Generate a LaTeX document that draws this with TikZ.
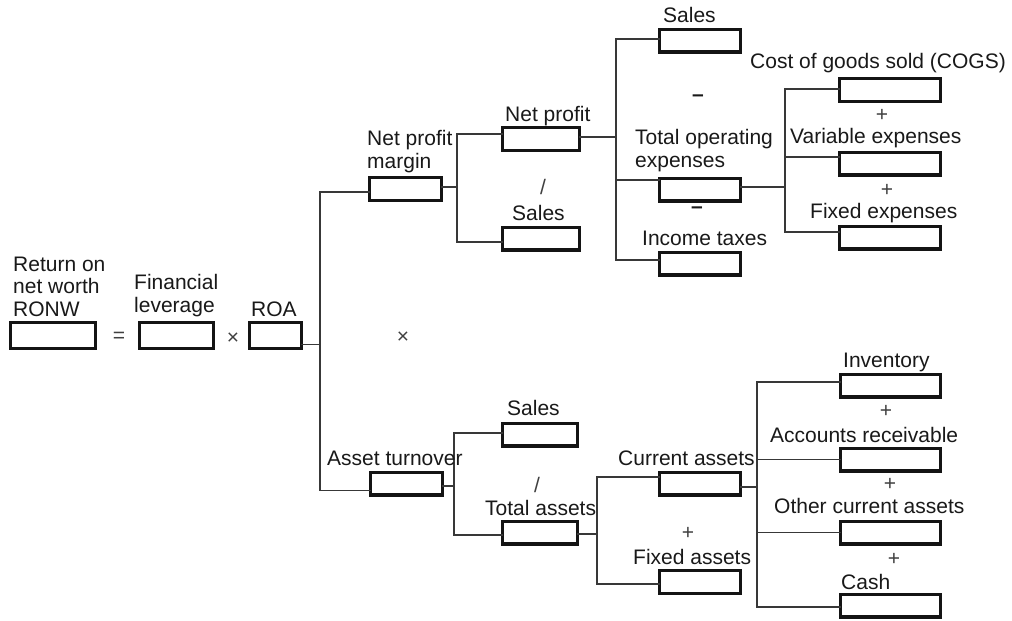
\documentclass[tikz,border=0pt]{standalone}
\usepackage{fontspec}
\setmainfont{Liberation Sans}
\usetikzlibrary{calc}
\newcommand{\lbfont}{\fontsize{21}{22.5}\selectfont}
\newcommand{\ml}[1]{\begin{tabular}[b]{@{}l@{}}#1\end{tabular}}
\begin{document}
\begin{tikzpicture}[x=1pt,y=-1pt,
  bx/.style={draw=black!92, line width=3.4pt, fill=white, minimum width=#1, minimum height=22.6pt, inner sep=0pt, outer sep=0pt},
  lbl/.style={anchor=base west, inner sep=0pt, font=\lbfont, text=black!90},
  op/.style={inner sep=0pt, font=\lbfont, text=black!75},
  conn/.style={draw=black!78, line width=1.2pt}]
\useasboundingbox[fill=white] (0,0) rectangle (1012,621);

% ---------- boxes ----------
\node[bx=84.6pt, minimum height=25.6pt] (ronw) at (53,335.5) {};
\node[bx=73.6pt, minimum height=25.6pt] (fl) at (176.5,335.5) {};
\node[bx=51.6pt, minimum height=25.6pt] (roa) at (275.5,335.5) {};
\node[bx=71.6pt] (npm) at (405.5,189) {};
\node[bx=76.6pt] (np) at (541,139) {};
\node[bx=76.6pt] (s1) at (541,238.5) {};
\node[bx=80.6pt] (s2) at (700,40.5) {};
\node[bx=80.6pt] (toe) at (700,189.5) {};
\node[bx=80.6pt] (it) at (700,263.5) {};
\node[bx=100.6pt] (cogs) at (890,90) {};
\node[bx=100.6pt] (var) at (890,163.5) {};
\node[bx=100.6pt] (fix) at (890,237.5) {};
\node[bx=71.6pt] (at) at (406.5,483.5) {};
\node[bx=74.6pt] (s3) at (540,434.5) {};
\node[bx=74.6pt] (ta) at (540,532.5) {};
\node[bx=80.6pt] (ca) at (700,483.5) {};
\node[bx=80.6pt] (fa) at (700,582) {};
\node[bx=100pt] (inv) at (890.5,385.5) {};
\node[bx=100pt] (ar) at (890.5,459.5) {};
\node[bx=100pt] (oca) at (890.5,532.5) {};
\node[bx=100pt] (cash) at (890.5,605.5) {};

% ---------- junction lines ----------
\coordinate (j1) at (320,0);
\coordinate (j2) at (457,0);
\coordinate (j3) at (616,0);
\coordinate (j4) at (785,0);
\coordinate (j5) at (454,0);
\coordinate (j6) at (597,0);
\coordinate (j7) at (757,0);

\draw[conn] ([yshift=-9pt]roa.east) -- ([yshift=-9pt]roa.east -| j1);
\draw[conn] ([yshift=-3pt]npm.west) -- ([yshift=-3pt]npm.west -| j1) -- ([yshift=-7pt]at.west -| j1) -- ([yshift=-7pt]at.west);

\draw[conn] ([yshift=2pt]npm.east) -- ([yshift=2pt]npm.east -| j2);
\draw[conn] ([yshift=5pt]np.west) -- ([yshift=5pt]np.west -| j2) -- ([yshift=-3.5pt]s1.west -| j2) -- ([yshift=-3.5pt]s1.west);

\draw[conn] ([yshift=2pt]np.east) -- ([yshift=2pt]np.east -| j3);
\draw[conn] ([yshift=1.5pt]s2.west) -- ([yshift=1.5pt]s2.west -| j3) -- ([yshift=3.5pt]it.west -| j3) -- ([yshift=3.5pt]it.west);
\draw[conn] ([yshift=9.5pt]toe.west -| j3) -- ([yshift=9.5pt]toe.west);

\draw[conn] ([yshift=2.5pt]toe.east) -- ([yshift=2.5pt]toe.east -| j4);
\draw[conn] ([yshift=1pt]cogs.west) -- ([yshift=1pt]cogs.west -| j4) -- ([yshift=5.5pt]fix.west -| j4) -- ([yshift=5.5pt]fix.west);
\draw[conn] ([yshift=6.5pt]var.west -| j4) -- ([yshift=6.5pt]var.west);

\draw[conn] ([yshift=-2.5pt]at.east) -- ([yshift=-2.5pt]at.east -| j5);
\draw[conn] ([yshift=1.5pt]s3.west) -- ([yshift=1.5pt]s3.west -| j5) -- ([yshift=-2.5pt]ta.west -| j5) -- ([yshift=-2.5pt]ta.west);

\draw[conn] ([yshift=-1.5pt]ta.east) -- ([yshift=-1.5pt]ta.east -| j6);
\draw[conn] ([yshift=6.5pt]ca.west) -- ([yshift=6.5pt]ca.west -| j6) -- ([yshift=-2pt]fa.west -| j6) -- ([yshift=-2pt]fa.west);

\draw[conn] ([yshift=-3.5pt]ca.east) -- ([yshift=-3.5pt]ca.east -| j7);
\draw[conn] ([yshift=3.5pt]inv.west) -- ([yshift=3.5pt]inv.west -| j7) -- ([yshift=-1.5pt]cash.west -| j7) -- ([yshift=-1.5pt]cash.west);
\draw[conn] (ar.west -| j7) -- (ar.west);
\draw[conn] (oca.west -| j7) -- (oca.west);

% ---------- labels ----------
\node[lbl] (tronw) at (13,316) {\ml{Return on\\net worth\\RONW}};
\node[lbl] (tfl) at (134,312) {\ml{Financial\\leverage}};
\node[lbl] (troa) at (251,316) {ROA};
\node[op] (eq) at (119,337) {=};
\node[op] (x1) at (233,339) {×};
\node[op] (x2) at (403,338) {×};

\node[lbl] (tnpm) at (367,168) {\ml{Net profit\\margin}};
\node[lbl] (tnp) at (505,121) {Net profit};
\node[op] (sl1) at (543,187) {/};
\node[lbl] (ts1) at (512,220) {Sales};

\node[lbl] (ts2) at (663,22) {Sales};
\node[op, font=\lbfont\bfseries, text=black!90] (mi1) at (698,98) {–};
\node[lbl] (ttoe) at (635,167) {\ml{Total operating\\expenses}};
\node[op, font=\lbfont\bfseries, text=black!90] (mi2) at (697,210) {–};
\node[lbl] (tit) at (642,245) {Income taxes};

\node[lbl] (tcogs) at (750,68) {Cost of goods sold (COGS)};
\node[op] (p1) at (882,115) {+};
\node[lbl] (tvar) at (790,143) {Variable expenses};
\node[op] (p2) at (887,190) {+};
\node[lbl] (tfix) at (810,218) {Fixed expenses};

\node[lbl] (tat) at (327,465) {Asset turnover};
\node[lbl] (ts3) at (507,415) {Sales};
\node[op] (sl2) at (537,485) {/};
\node[lbl] (tta) at (485,515) {Total assets};

\node[lbl] (tca) at (618,465) {Current assets};
\node[op] (p3) at (688,533) {+};
\node[lbl] (tfa) at (633,564) {Fixed assets};

\node[lbl] (tinv) at (843,367) {Inventory};
\node[op] (p4) at (886,411) {+};
\node[lbl] (tar) at (770,442) {Accounts receivable};
\node[op] (p5) at (890,484) {+};
\node[lbl] (toca) at (774,513) {Other current assets};
\node[op] (p6) at (894,559) {+};
\node[lbl] (tcash) at (841,589) {Cash};
\end{tikzpicture}
\end{document}
